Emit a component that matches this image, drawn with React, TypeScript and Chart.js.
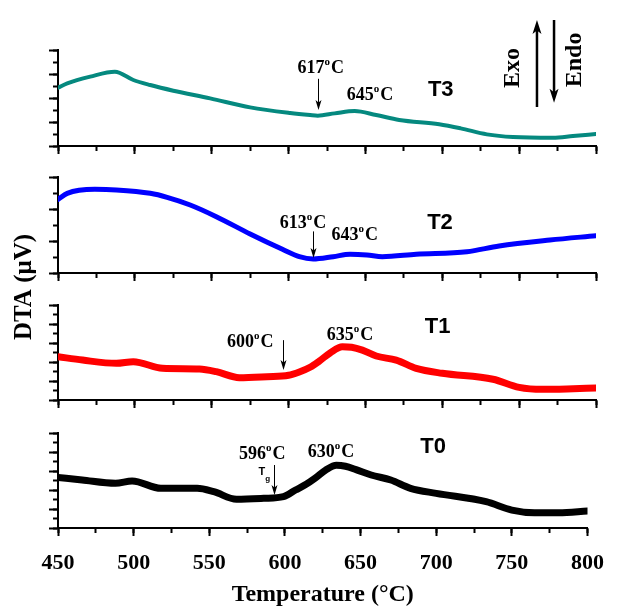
import React, { useEffect, useRef } from 'react';
import { Chart, registerables } from 'chart.js';

Chart.register(...registerables);

const SERIF = '"Liberation Serif", "Times New Roman", serif';
const SANS = '"Liberation Sans", Arial, sans-serif';

// ---- data ----
const X_MIN = 450;
const X_MAX = 800;
const X_MAJOR_STEP = 50;
const X_MINOR_STEP = 25;

const TEMP_T3 = [450, 456, 471, 487, 499, 510, 525, 549, 575, 601, 614, 619, 630, 643, 657, 672, 698, 712, 729, 746, 772, 785, 800];
const DTA_T3 = [4.86, 5.22, 5.78, 6.19, 5.5, 5.08, 4.61, 3.97, 3.22, 2.75, 2.58, 2.53, 2.72, 2.92, 2.58, 2.17, 1.81, 1.47, 0.97, 0.75, 0.69, 0.83, 1.0];

const TEMP_T2 = [450, 456, 474, 488, 510, 521, 536, 553, 575, 596, 607, 616, 629, 640, 651, 661, 683, 716, 737, 770, 800];
const DTA_T2 = [4.6, 4.98, 5.23, 5.19, 4.98, 4.73, 4.25, 3.52, 2.44, 1.48, 1.02, 0.875, 1.02, 1.17, 1.125, 1.02, 1.17, 1.33, 1.69, 2.06, 2.33];

const TEMP_T1 = [450, 466, 488, 499, 518, 542, 553, 568, 586, 600, 607, 614, 620, 627, 635, 641, 648, 657, 670, 683, 700, 733, 750, 765, 781, 800];
const DTA_T1 = [4.56, 4.2, 3.86, 4.03, 3.33, 3.26, 2.98, 2.35, 2.46, 2.6, 2.95, 3.45, 4.1, 4.95, 5.6, 5.55, 5.25, 4.63, 4.2, 3.33, 2.81, 2.18, 1.33, 1.12, 1.16, 1.26];

const TEMP_T0 = [450, 466, 488, 499, 518, 542, 553, 568, 586, 599, 607, 614, 620, 627, 634, 640, 647, 657, 670, 683, 700, 733, 750, 765, 781, 800];
const DTA_T0 = [5.33, 5.05, 4.7, 4.95, 4.18, 4.18, 3.82, 3.02, 3.12, 3.3, 4.0, 4.6, 5.25, 6.1, 6.6, 6.5, 6.15, 5.58, 5.05, 4.18, 3.65, 2.77, 1.89, 1.61, 1.61, 1.79];

const X_TITLE = 'Temperature (°C)';
const Y_TITLE = 'DTA (μV)';

// ---- layout / style ----
const W = 618;
const H = 613;

type Note =
  | { kind: 'temp'; text: string; x: number; y: number }
  | { kind: 'arrow'; x: number; y1: number; y2: number }
  | { kind: 'tag'; text: string; x: number; y: number }
  | { kind: 'tg'; x: number; y: number }
  | { kind: 'bigArrow'; x: number; y1: number; y2: number }
  | { kind: 'vtext'; text: string; x: number; y: number };

type Panel = {
  name: string;
  temps: number[];
  values: number[];
  color: string;
  lineWidth: number;
  yMax: number;
  top: number;
  bottom: number;
  isBottom: boolean;
  notes: Note[];
};

const PANELS: Panel[] = [
  {
    name: 'T3', temps: TEMP_T3, values: DTA_T3, color: '#05897f', lineWidth: 4, yMax: 8, top: 50, bottom: 146, isBottom: false,
    notes: [
      { kind: 'temp', text: '617', x: 621, y: 6.08 },
      { kind: 'arrow', x: 619, y1: 5.6, y2: 3.0 },
      { kind: 'temp', text: '645', x: 653, y: 3.83 },
      { kind: 'tag', text: 'T3', x: 699, y: 4.67 },
      { kind: 'bigArrow', x: 761.6, y1: 3.25, y2: 10.5 },
      { kind: 'vtext', text: 'Exo', x: 746, y: 6.5 },
      { kind: 'bigArrow', x: 772.7, y1: 10.5, y2: 3.6 },
      { kind: 'vtext', text: 'Endo', x: 786.4, y: 7.17 },
    ],
  },
  {
    name: 'T2', temps: TEMP_T2, values: DTA_T2, color: '#0000ff', lineWidth: 5, yMax: 6, top: 177, bottom: 273, isBottom: false,
    notes: [
      { kind: 'temp', text: '613', x: 609.4, y: 2.81 },
      { kind: 'arrow', x: 616, y1: 2.6, y2: 0.94 },
      { kind: 'temp', text: '643', x: 643, y: 2.06 },
      { kind: 'tag', text: 'T2', x: 698.5, y: 3.125 },
    ],
  },
  {
    name: 'T1', temps: TEMP_T1, values: DTA_T1, color: '#ff0000', lineWidth: 7, yMax: 10, top: 305, bottom: 400, isBottom: false,
    notes: [
      { kind: 'temp', text: '600', x: 575, y: 5.58 },
      { kind: 'arrow', x: 596.4, y1: 6.3, y2: 3.16 },
      { kind: 'temp', text: '635', x: 640, y: 6.3 },
      { kind: 'tag', text: 'T1', x: 697, y: 7.68 },
    ],
  },
  {
    name: 'T0', temps: TEMP_T0, values: DTA_T0, color: '#000000', lineWidth: 7, yMax: 10, top: 433, bottom: 528, isBottom: true,
    notes: [
      { kind: 'temp', text: '596', x: 585, y: 7.26 },
      { kind: 'tg', x: 584.7, y: 5.95 },
      { kind: 'arrow', x: 592.5, y1: 6.63, y2: 3.47 },
      { kind: 'temp', text: '630', x: 630.5, y: 7.47 },
      { kind: 'tag', text: 'T0', x: 698, y: 8.53 },
    ],
  },
];

const Y_TITLE_POS = { x: 25, y: 287 };

function drawTemp(ctx: CanvasRenderingContext2D, text: string, cx: number, by: number) {
  const big = `bold 18px ${SERIF}`;
  const small = `bold 11px ${SERIF}`;
  ctx.font = big;
  const w1 = ctx.measureText(text).width;
  const w3 = ctx.measureText('C').width;
  ctx.font = small;
  const w2 = ctx.measureText('o').width;
  const total = w1 + w2 + w3 + 1;
  let x = cx - total / 2;
  ctx.textAlign = 'left';
  ctx.textBaseline = 'alphabetic';
  ctx.fillStyle = '#000';
  ctx.font = big;
  ctx.fillText(text, x, by);
  x += w1;
  ctx.font = small;
  ctx.fillText('o', x, by - 8);
  x += w2 + 1;
  ctx.font = big;
  ctx.fillText('C', x, by);
}

function drawArrow(ctx: CanvasRenderingContext2D, x: number, y1: number, y2: number, lw: number, hw: number, hh: number) {
  const dir = Math.sign(y2 - y1);
  ctx.strokeStyle = '#000';
  ctx.fillStyle = '#000';
  ctx.lineWidth = lw;
  ctx.beginPath();
  ctx.moveTo(x, y1);
  ctx.lineTo(x, y2 - dir * hh * 0.7);
  ctx.stroke();
  ctx.beginPath();
  ctx.moveTo(x, y2);
  ctx.lineTo(x - hw / 2, y2 - dir * hh);
  ctx.lineTo(x, y2 - dir * hh * 0.75);
  ctx.lineTo(x + hw / 2, y2 - dir * hh);
  ctx.closePath();
  ctx.fill();
}

function makeNotesPlugin(p: Panel) {
  return {
    id: 'notes' + p.name,
    afterDatasetsDraw(chart: any) {
      const ctx: CanvasRenderingContext2D = chart.ctx;
      const xs = chart.scales.x;
      const ys = chart.scales.y;
      ctx.save();
      for (const n of p.notes) {
        const px = xs.getPixelForValue(n.x);
        if (n.kind === 'temp') {
          drawTemp(ctx, n.text, px, ys.getPixelForValue(n.y));
        } else if (n.kind === 'arrow') {
          drawArrow(ctx, Math.round(px) + 0.5, ys.getPixelForValue(n.y1), ys.getPixelForValue(n.y2), 1, 6, 10);
        } else if (n.kind === 'bigArrow') {
          drawArrow(ctx, px, ys.getPixelForValue(n.y1), ys.getPixelForValue(n.y2), 2.5, 9, 14);
        } else if (n.kind === 'tag') {
          ctx.font = `bold 22px ${SANS}`;
          ctx.fillStyle = '#000';
          ctx.textAlign = 'center';
          ctx.textBaseline = 'middle';
          ctx.fillText(n.text, px, ys.getPixelForValue(n.y));
        } else if (n.kind === 'tg') {
          const py = ys.getPixelForValue(n.y);
          ctx.fillStyle = '#000';
          ctx.textAlign = 'center';
          ctx.textBaseline = 'middle';
          ctx.font = `bold 11px ${SANS}`;
          ctx.fillText('T', px, py);
          ctx.font = `bold 8px ${SANS}`;
          ctx.fillText('g', px + 6, py + 7);
        } else if (n.kind === 'vtext') {
          const py = ys.getPixelForValue(n.y);
          ctx.save();
          ctx.translate(px, py);
          ctx.rotate(-Math.PI / 2);
          ctx.font = `bold 24px ${SERIF}`;
          ctx.fillStyle = '#000';
          ctx.textAlign = 'center';
          ctx.textBaseline = 'middle';
          ctx.fillText(n.text, 0, 0);
          ctx.restore();
        }
      }
      if (p.isBottom) {
        ctx.save();
        ctx.translate(Y_TITLE_POS.x, Y_TITLE_POS.y);
        ctx.rotate(-Math.PI / 2);
        ctx.font = `bold 25px ${SERIF}`;
        ctx.fillStyle = '#000';
        ctx.textAlign = 'center';
        ctx.textBaseline = 'middle';
        ctx.fillText(Y_TITLE, 0, 0);
        ctx.restore();
      }
      ctx.restore();
    },
  };
}

function makeConfig(p: Panel): any {
  const xAxisH = p.isBottom ? H - p.bottom : 10;
  const padBottom = H - p.bottom - xAxisH;
  return {
    type: 'line',
    data: {
      datasets: [
        {
          label: p.name,
          data: p.temps.map((t, i) => ({ x: t, y: p.values[i] })),
          borderColor: p.color,
          borderWidth: p.lineWidth,
          pointRadius: 0,
          cubicInterpolationMode: 'monotone',
          fill: false,
          borderCapStyle: 'round',
          borderJoinStyle: 'round',
          xAxisID: 'x',
          yAxisID: 'y',
        },
      ],
    },
    options: {
      responsive: false,
      animation: false,
      devicePixelRatio: 1,
      events: [],
      layout: { padding: { left: 48, right: 22, top: p.top, bottom: padBottom } },
      plugins: { legend: { display: false }, tooltip: { enabled: false } },
      scales: {
        x: {
          type: 'linear',
          axis: 'x',
          min: X_MIN,
          max: X_MAX,
          position: 'bottom',
          ticks: {
            stepSize: X_MAJOR_STEP,
            display: p.isBottom,
            color: '#000',
            font: { family: SERIF, size: 22, weight: 'bold' },
            padding: 14,
            maxRotation: 0,
            autoSkip: false,
          },
          grid: { drawOnChartArea: false, tickLength: 8, tickWidth: 2, tickColor: '#000' },
          border: { display: true, width: 2, color: '#000' },
          title: {
            display: p.isBottom,
            text: X_TITLE,
            color: '#000',
            font: { family: SERIF, size: 24, weight: 'bold' },
            padding: { top: 0, bottom: 4 },
          },
          afterFit: (s: any) => { s.height = xAxisH; },
        },
        xm: {
          type: 'linear',
          axis: 'x',
          min: X_MIN,
          max: X_MAX,
          position: { y: 0 },
          ticks: { stepSize: X_MINOR_STEP, display: false },
          grid: { drawOnChartArea: false, tickLength: 5, tickWidth: 2, tickColor: '#000' },
          border: { display: false },
          afterFit: (s: any) => { s.height = 0; },
        },
        y: {
          type: 'linear',
          axis: 'y',
          min: 0,
          max: p.yMax,
          position: 'left',
          ticks: { stepSize: 2, display: false },
          grid: { drawOnChartArea: false, tickLength: 9, tickWidth: 2, tickColor: '#000' },
          border: { display: true, width: 2, color: '#000' },
          afterFit: (s: any) => { s.width = 10; },
        },
        ym: {
          type: 'linear',
          axis: 'y',
          min: 0,
          max: p.yMax,
          position: { x: X_MIN },
          ticks: { stepSize: 1, display: false },
          grid: { drawOnChartArea: false, tickLength: 5, tickWidth: 2, tickColor: '#000' },
          border: { display: false },
          afterFit: (s: any) => { s.width = 0; },
        },
      },
    },
    plugins: [makeNotesPlugin(p)],
  };
}

export default function App() {
  const refs = useRef<(HTMLCanvasElement | null)[]>([]);
  useEffect(() => {
    const charts = PANELS.map((p, i) => new Chart(refs.current[i] as HTMLCanvasElement, makeConfig(p)));
    return () => charts.forEach((c) => c.destroy());
  }, []);
  return (
    <div style={{ position: 'absolute', left: 0, top: 0, width: W, height: H, background: '#fff' }}>
      {PANELS.map((p, i) => (
        <canvas
          key={p.name}
          ref={(el) => { refs.current[i] = el; }}
          width={W}
          height={H}
          style={{ position: 'absolute', left: 0, top: 0, width: W, height: H }}
        />
      ))}
    </div>
  );
}
